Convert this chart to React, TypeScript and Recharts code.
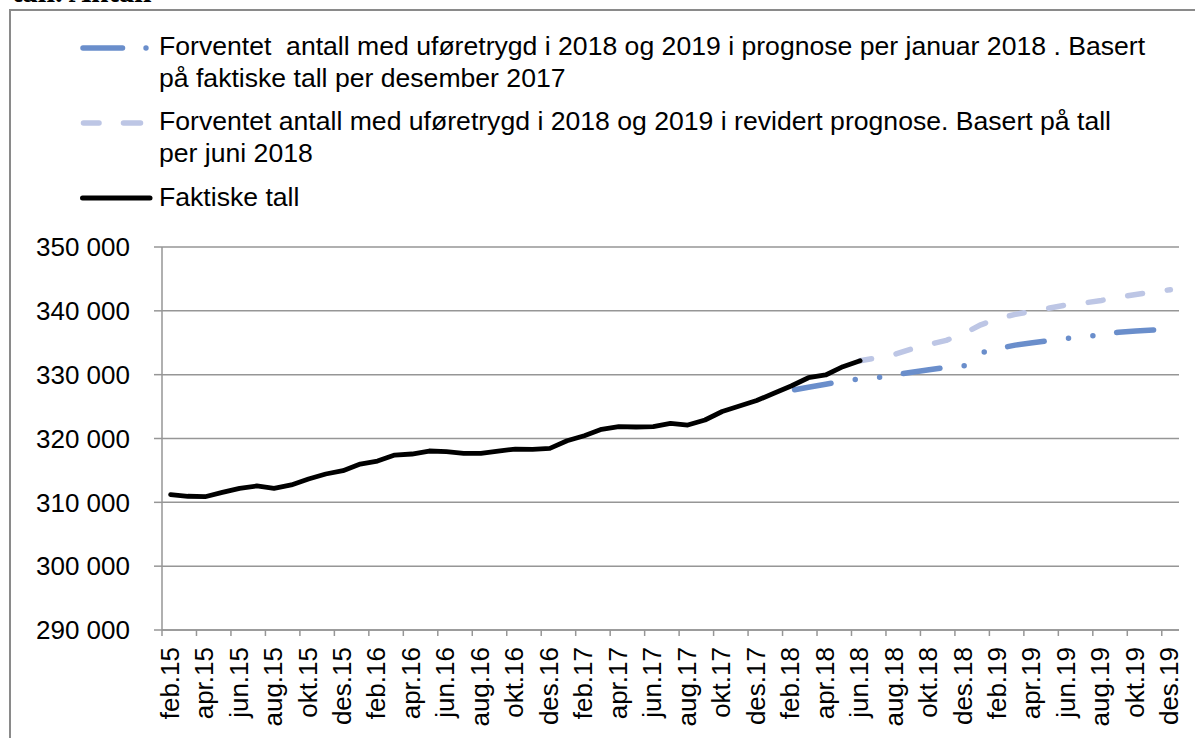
import { LineChart, Line, XAxis, YAxis, CartesianGrid } from "recharts"

// kategorier: feb.15 – des.19
const months = [
  "feb.15", "mar.15", "apr.15", "mai.15", "jun.15", "jul.15", "aug.15", "sep.15", "okt.15", "nov.15", "des.15",
  "jan.16", "feb.16", "mar.16", "apr.16", "mai.16", "jun.16", "jul.16", "aug.16", "sep.16", "okt.16", "nov.16", "des.16",
  "jan.17", "feb.17", "mar.17", "apr.17", "mai.17", "jun.17", "jul.17", "aug.17", "sep.17", "okt.17", "nov.17", "des.17",
  "jan.18", "feb.18", "mar.18", "apr.18", "mai.18", "jun.18", "jul.18", "aug.18", "sep.18", "okt.18", "nov.18", "des.18",
  "jan.19", "feb.19", "mar.19", "apr.19", "mai.19", "jun.19", "jul.19", "aug.19", "sep.19", "okt.19", "nov.19", "des.19",
]

// faktiske tall feb.15 – jun.18
const actual = [
  311200, 310950, 310880, 311560, 312200, 312560, 312200, 312720, 313660, 314440, 314960,
  316000, 316470, 317410, 317570, 318040, 317930, 317680, 317680, 318040, 318350, 318310, 318460,
  319650, 320440, 321440, 321850, 321800, 321850, 322380, 322110, 322900, 324230, 325090, 325950,
  327080, 328220, 329520, 329950, 331250, 332190,
]

// prognose per januar 2018, jan.18 – des.19
const januaryForecastStart = 35
const januaryForecast = [
  327050, 327530, 328020, 328510, 328960, 329340, 329540, 329950, 330390, 330760, 331170, 331340,
  333410, 334080, 334630, 334990, 335350, 335700, 335930, 336250, 336650, 336830, 337000, 337110,
]

// revidert prognose, jun.18 – des.19
const revisedForecastStart = 40
const revisedForecast = [
  332190, 332640, 333190, 334040, 334730, 335380, 336420,
  337810, 338810, 339440, 339940, 340440, 340930, 341230, 341630, 342140, 342570, 342950, 343310,
]

const yTicks = [290000, 300000, 310000, 320000, 330000, 340000, 350000]

const data = months.map((month, i) => ({
  month,
  actual: i < actual.length ? actual[i] : null,
  jan: i >= januaryForecastStart ? januaryForecast[i - januaryForecastStart] : null,
  revised: i >= revisedForecastStart ? revisedForecast[i - revisedForecastStart] : null,
}))

const FONT = '"Liberation Sans", Arial, sans-serif'
const AXIS = "#969696"
const BLUE = "#6a8ecb"
const LIGHT = "#bdc6e5"
const PLOT_LEFT = 162
const PLOT_RIGHT = 1179
const HALF_STEP = (PLOT_RIGHT - PLOT_LEFT) / months.length / 2

const fmt = (v: number) => String(v).replace(/\B(?=(\d{3})+(?!\d))/g, " ")

function MonthTick(props: any) {
  const { x, y, payload } = props
  const edge = x - HALF_STEP
  const tx = x + 8
  const ty = y + 17
  return (
    <g>
      <line x1={edge} y1={y} x2={edge} y2={y + 6} stroke={AXIS} strokeWidth={1.5} />
      <text x={tx} y={ty} transform={`rotate(-90 ${tx} ${ty})`} textAnchor="end" fontSize={26} fill="#000">
        {payload.value}
      </text>
    </g>
  )
}

const textRow: React.CSSProperties = {
  position: "absolute",
  left: 159,
  fontSize: 26.6,
  lineHeight: "32.5px",
  whiteSpace: "pre",
  color: "#000",
}

export default function App() {
  return (
    <div
      style={{
        position: "absolute",
        left: 0,
        top: 0,
        width: 1195,
        height: 738,
        overflow: "hidden",
        background: "#fff",
        fontFamily: FONT,
      }}
    >
      <div
        style={{
          position: "absolute",
          left: 12,
          top: -26,
          fontFamily: '"Liberation Serif", "Times New Roman", serif',
          fontWeight: "bold",
          fontSize: 31,
          whiteSpace: "pre",
        }}
      >
        tall. Antall
      </div>
      <div
        style={{
          position: "absolute",
          left: 9,
          top: 9,
          width: 1250,
          height: 800,
          border: "2px solid #8a8a8a",
        }}
      />

      <LineChart
        width={1195}
        height={738}
        data={data}
        margin={{ top: 247, right: 1195 - PLOT_RIGHT, bottom: 8, left: PLOT_LEFT - 100 }}
        style={{ position: "absolute", left: 0, top: 0 }}
      >
        <CartesianGrid vertical={false} stroke={AXIS} strokeWidth={1.5} />
        <XAxis
          dataKey="month"
          interval={1}
          height={100}
          padding={{ left: HALF_STEP, right: HALF_STEP }}
          tickSize={0}
          tickMargin={0}
          tickLine={false}
          axisLine={{ stroke: AXIS, strokeWidth: 1.5 }}
          tick={<MonthTick />}
        />
        <YAxis
          width={100}
          domain={[290000, 350000]}
          ticks={yTicks}
          tickFormatter={fmt}
          tickSize={8}
          tickMargin={24}
          tickLine={{ stroke: AXIS, strokeWidth: 1.5 }}
          axisLine={{ stroke: AXIS, strokeWidth: 1.5 }}
          tick={{ fill: "#000", fontSize: 26 }}
        />
        <Line
          dataKey="revised"
          stroke={LIGHT}
          strokeWidth={5.5}
          strokeDasharray="15 25"
          strokeDashoffset={3.4}
          strokeLinecap="round"
          strokeLinejoin="round"
          dot={false}
          activeDot={false}
          isAnimationActive={false}
        />
        <Line
          dataKey="jan"
          stroke={BLUE}
          strokeWidth={5.5}
          strokeDasharray="37 24.5 0 24.5 0 24"
          strokeDashoffset={89}
          strokeLinecap="round"
          strokeLinejoin="round"
          dot={false}
          activeDot={false}
          isAnimationActive={false}
        />
        <Line
          dataKey="actual"
          stroke="#000"
          strokeWidth={4.8}
          strokeLinecap="round"
          strokeLinejoin="round"
          dot={false}
          activeDot={false}
          isAnimationActive={false}
        />
      </LineChart>

      <svg width={1195} height={230} style={{ position: "absolute", left: 0, top: 0 }}>
        <line x1={83} y1={48} x2={122.5} y2={48} stroke={BLUE} strokeWidth={5.5} strokeLinecap="round" />
        <circle cx={146} cy={48} r={2.7} fill={BLUE} />
        <line x1={83.5} y1={123} x2={99} y2={123} stroke={LIGHT} strokeWidth={5.5} strokeLinecap="round" />
        <line x1={123.5} y1={123} x2={140.5} y2={123} stroke={LIGHT} strokeWidth={5.5} strokeLinecap="round" />
        <line x1={82.5} y1={198} x2={150} y2={198} stroke="#000" strokeWidth={5} strokeLinecap="round" />
      </svg>

      <div style={{ ...textRow, top: 29.5 }}>
        {"Forventet  antall med uføretrygd i 2018 og 2019 i prognose per januar 2018 . Basert"}
        <br />
        {"på faktiske tall per desember 2017"}
      </div>
      <div style={{ ...textRow, top: 104.5 }}>
        {"Forventet antall med uføretrygd i 2018 og 2019 i revidert prognose. Basert på tall"}
        <br />
        {"per juni 2018"}
      </div>
      <div style={{ ...textRow, top: 181 }}>Faktiske tall</div>
    </div>
  )
}
